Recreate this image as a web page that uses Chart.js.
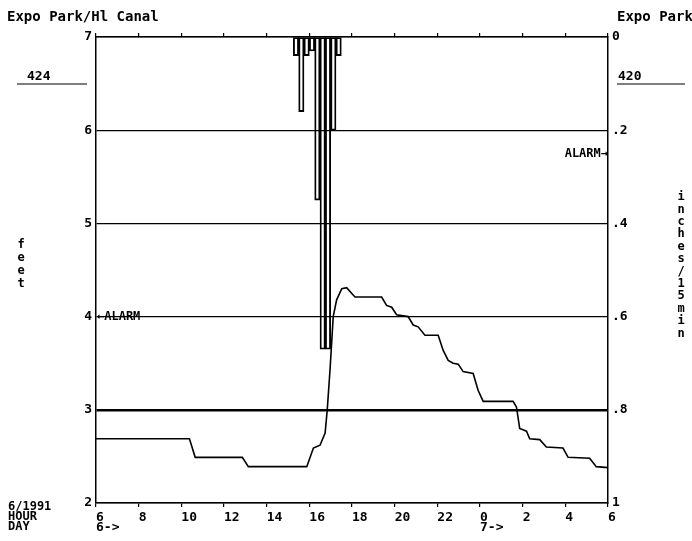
<!DOCTYPE html>
<html>
<head>
<meta charset="utf-8">
<script src="https://cdn.jsdelivr.net/npm/chart.js@4/dist/chart.umd.min.js"></script>
<style>
  body { margin: 0; background: #fff; }
  #wrap { width: 692px; height: 541px; }
</style>
</head>
<body>
<div id="wrap"><canvas id="stageChart" width="692" height="541"></canvas></div>
<script>
// stage at Expo Park / Hl Canal, feet (hour of 6/1991, 24+ = next day)
const stageHours = [6.0, 10.38, 10.65, 12.86, 13.14, 15.88, 16.19, 16.5, 16.74, 16.84, 16.97, 17.12, 17.28, 17.52,
  17.75, 17.98, 18.14, 19.39, 19.62, 19.86, 20.09, 20.63, 20.87, 21.1, 21.42, 22.04, 22.27, 22.51, 22.74,
  22.98, 23.21, 23.68, 23.91, 24.15, 25.55, 25.71, 25.86, 26.18, 26.33, 26.8, 27.11, 27.89, 28.13, 29.14,
  29.45, 30.0, 30.0];
const stageFeet = [2.69, 2.69, 2.49, 2.49, 2.39, 2.39, 2.59, 2.62, 2.75, 3.0, 3.43, 4.0, 4.18, 4.30,
  4.31, 4.25, 4.21, 4.21, 4.12, 4.10, 4.02, 4.0, 3.91, 3.89, 3.80, 3.80, 3.64, 3.53, 3.50,
  3.49, 3.41, 3.39, 3.21, 3.09, 3.09, 3.03, 2.80, 2.77, 2.69, 2.68, 2.60, 2.59, 2.49, 2.48,
  2.39, 2.38, 2.0];

// rain, inches per 15 min (start of each 15 minute interval)
const rainHours = [15.25, 15.5, 15.75, 16.0, 16.25, 16.5, 16.75, 17.0, 17.25];
const rainInches = [0.04, 0.16, 0.04, 0.03, 0.35, 0.67, 0.67, 0.2, 0.04];

const hourTicks = [6, 8, 10, 12, 14, 16, 18, 20, 22, 24, 26, 28, 30];
const hourLabels = ['6', '8', '10', '12', '14', '16', '18', '20', '22', '0', '2', '4', '6'];
const dayLabels = { 6: '6->', 24: '7->' };
const feetTicks = [2, 3, 4, 5, 6, 7];
const rainTicks = [0, 0.2, 0.4, 0.6, 0.8, 1];
const rainLabels = ['0', '.2', '.4', '.6', '.8', '1'];

const MONO = '"DejaVu Sans Mono", "Liberation Mono", monospace';

const notes = {
  id: 'notes',
  afterDraw(chart) {
    const ctx = chart.ctx;
    const y = chart.scales.y;
    const y2 = chart.scales.y2;
    const area = chart.chartArea;
    ctx.save();
    ctx.fillStyle = '#000';
    ctx.strokeStyle = '#000';
    ctx.textBaseline = 'middle';
    ctx.textAlign = 'left';

    ctx.font = 'bold 14px ' + MONO;
    ctx.fillText('Expo Park/Hl Canal', 7, 17);
    ctx.fillText('Expo Park', 617, 17);

    ctx.font = 'bold 13px ' + MONO;
    ctx.fillText('424', 27, 77);
    ctx.fillText('420', 618, 77);
    ctx.lineWidth = 1.2;
    ctx.beginPath();
    ctx.moveTo(17, 84); ctx.lineTo(87, 84);
    ctx.moveTo(617, 84); ctx.lineTo(685, 84);
    ctx.stroke();

    // alarm marks
    ctx.font = 'bold 12px ' + MONO;
    ctx.fillText('\u2190ALARM', area.left + 1, y.getPixelForValue(4));
    ctx.textAlign = 'right';
    ctx.fillText('ALARM\u2192', area.right, y2.getPixelForValue(0.25));

    // stacked axis titles
    ctx.textAlign = 'center';
    ctx.font = 'bold 12px ' + MONO;
    'feet'.split('').forEach((c, i) => ctx.fillText(c, 21, 245 + i * 13));
    'inches/15min'.split('').forEach((c, i) => ctx.fillText(c, 681, 197 + i * 12.4));

    // date block, bottom left
    ctx.textAlign = 'left';
    ctx.font = 'bold 12px ' + MONO;
    ctx.fillText('6/1991', 8, 507);
    ctx.fillText('HOUR', 8, 517);
    ctx.fillText('DAY', 8, 527);
    ctx.restore();
  }
};

function renderChart() {
  const ctx = document.getElementById('stageChart').getContext('2d');
  const tickFont = { family: MONO, size: 13, weight: 'bold' };

  new Chart(ctx, {
    type: 'line',
    data: {
      datasets: [
        {
          label: 'Stage (feet)',
          data: stageHours.map((h, i) => ({ x: h, y: stageFeet[i] })),
          xAxisID: 'x',
          yAxisID: 'y',
          borderColor: '#000',
          borderWidth: 1.6,
          pointRadius: 0,
          tension: 0,
          fill: false,
          order: 0
        },
        {
          type: 'bar',
          label: 'Rain (in/15min)',
          data: rainHours.map((h, i) => ({ x: h + 0.125, y: [0, rainInches[i]] })),
          xAxisID: 'x',
          yAxisID: 'y2',
          backgroundColor: 'rgba(255,255,255,0)',
          borderColor: '#000',
          borderWidth: 1.2,
          borderSkipped: false,
          barPercentage: 1,
          categoryPercentage: 1,
          order: 1
        }
      ]
    },
    options: {
      responsive: false,
      animation: false,
      layout: { padding: 0 },
      plugins: {
        legend: { display: false },
        tooltip: { enabled: false }
      },
      scales: {
        x: {
          type: 'linear',
          position: 'bottom',
          offset: false,
          min: 6,
          max: 30,
          afterBuildTicks: (s) => { s.ticks = hourTicks.map(v => ({ value: v })); },
          afterFit: (s) => { s.height = 38; },
          grid: { offset: false, drawOnChartArea: false, drawTicks: true, tickLength: 4, color: '#000', lineWidth: 1.2 },
          border: { color: '#000', width: 1.5 },
          ticks: {
            color: '#000',
            font: { ...tickFont, lineHeight: 0.75 },
            padding: 6,
            align: 'start',
            maxRotation: 0,
            autoSkip: false,
            callback: (v) => {
              const lab = hourLabels[hourTicks.indexOf(v)];
              return dayLabels[v] ? [lab, dayLabels[v]] : lab;
            }
          }
        },
        xTop: {
          type: 'linear',
          position: 'top',
          offset: false,
          min: 6,
          max: 30,
          afterBuildTicks: (s) => { s.ticks = hourTicks.map(v => ({ value: v })); },
          afterFit: (s) => { s.height = 37; },
          grid: { offset: false, drawOnChartArea: false, drawTicks: true, tickLength: 4, color: '#000', lineWidth: 1.2 },
          border: { color: '#000', width: 1.5 },
          ticks: { display: false }
        },
        y: {
          type: 'linear',
          position: 'left',
          min: 2,
          max: 7,
          afterBuildTicks: (s) => { s.ticks = feetTicks.map(v => ({ value: v })); },
          afterFit: (s) => { s.width = 96; },
          grid: {
            color: '#000',
            drawTicks: false,
            lineWidth: (c) => (c.tick && c.tick.value === 3 ? 2.4 : 1.2)
          },
          border: { color: '#000', width: 1.5 },
          ticks: { color: '#000', font: tickFont, padding: 4 }
        },
        y2: {
          type: 'linear',
          position: 'right',
          reverse: true,
          min: 0,
          max: 1,
          afterBuildTicks: (s) => { s.ticks = rainTicks.map(v => ({ value: v })); },
          afterFit: (s) => { s.width = 84; },
          grid: { drawOnChartArea: false, drawTicks: false, color: '#000' },
          border: { color: '#000', width: 1.5 },
          ticks: {
            color: '#000',
            font: tickFont,
            padding: 4,
            callback: (v) => rainLabels[rainTicks.indexOf(v)]
          }
        }
      }
    },
    plugins: [notes]
  });
}

document.addEventListener('DOMContentLoaded', () => {
  renderChart();
});
</script>
</body>
</html>
